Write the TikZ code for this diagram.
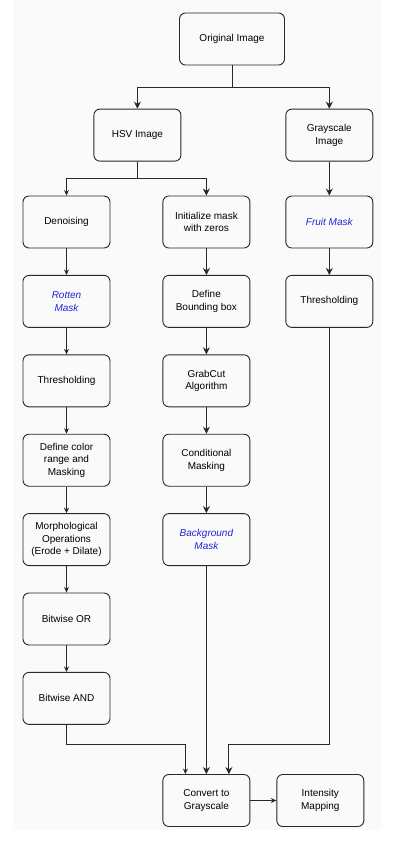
\documentclass[tikz,border=0pt]{standalone}
\usepackage{fontspec}
\setmainfont{Liberation Sans}
\usetikzlibrary{positioning,arrows.meta}

\definecolor{maskblue}{RGB}{35,35,215}
\definecolor{bgpaper}{RGB}{250,250,250}
\definecolor{linegray}{RGB}{40,40,40}

\tikzset{
	box/.style = {draw=linegray, line width=0.9pt, rounded corners=6pt,
		minimum width=87pt, minimum height=52pt, align=center,
		font=\fontsize{10}{12.7}\selectfont},
	mask/.style = {text=maskblue, font=\fontsize{10}{12.7}\selectfont\itshape},
	arr/.style = {draw=linegray, line width=0.9pt, -{Stealth[length=7pt,width=7pt]}},
	arrs/.style = {draw=linegray, line width=0.9pt, -{Stealth[length=5.5pt,width=5pt]}},
}

\begin{document}
\begin{tikzpicture}[node distance=26.5pt]
	\useasboundingbox (0,0) rectangle (415pt,-846pt);
	\fill[bgpaper] (13pt,0) rectangle (381pt,-830pt);

	% left column
	\node[box] (l1) at (66.5pt,-222pt) {Denoising};
	\node[box, below=of l1] (l2) {\textcolor{maskblue}{\itshape Rotten}\\\textcolor{maskblue}{\itshape Mask}};
	\node[box, below=of l2] (l3) {Thresholding};
	\node[box, below=of l3] (l4) {Define color\\range and\\Masking};
	\node[box, below=of l4] (l5) {Morphological\\Operations\\(Erode + Dilate)};
	\node[box, below=of l5] (l6) {Bitwise OR};
	\node[box, below=of l6] (l7) {Bitwise AND};

	% middle column
	\node[box, right=52pt of l1] (m1) {Initialize mask\\with zeros};
	\node[box, below=of m1] (m2) {Define\\Bounding box};
	\node[box, below=of m2] (m3) {GrabCut\\Algorithm};
	\node[box, below=of m3] (m4) {Conditional\\Masking};
	\node[box, below=of m4] (m5) {\textcolor{maskblue}{\itshape Background}\\\textcolor{maskblue}{\itshape Mask}};

	% right column
	\node[box, right=35pt of m1] (r1) {\textcolor{maskblue}{\itshape Fruit Mask}};
	\node[box, below=of r1] (r2) {Thresholding};

	% top
	\node[box, above=34pt of r1] (gray) {Grayscale\\Image};
	\node[box, left=104pt of gray] (hsv) {HSV Image};
	\node[box, minimum width=105pt] (orig) at (232pt,-39pt) {Original Image};

	% bottom
	\node[box, below=208pt of m5] (conv) {Convert to\\Grayscale};
	\node[box, right=26pt of conv] (inten) {Intensity\\Mapping};

	\coordinate (split1) at (0,-87pt);
	\coordinate (split2) at (0,-178pt);
	\coordinate (merge) at (0,-744pt);

	\draw[arr] (orig.south) -- (orig.south |- split1) -| (hsv.north);
	\draw[arr] (orig.south) -- (orig.south |- split1) -| (gray.north);
	\draw[arrs] (hsv.south) -- (hsv.south |- split2) -| (l1.north);
	\draw[arr] (hsv.south) -- (hsv.south |- split2) -| (m1.north);

	\foreach \a/\b in {l1/l2, l2/l3, l3/l4, l4/l5, l5/l6, l6/l7}
		\draw[arrs] (\a) -- (\b);
	\foreach \a/\b in {m1/m2, m2/m3, m3/m4, m4/m5, gray/r1, r1/r2}
		\draw[arr] (\a) -- (\b);

	\draw[arrs] (l7.south) -- (l7.south |- merge) -| ([xshift=-21pt]conv.north);
	\draw[arr] (m5) -- (conv);
	\draw[arr] (r2.south) -- (r2.south |- merge) -| ([xshift=22.5pt]conv.north);
	\draw[arrs] (conv) -- (inten);
\end{tikzpicture}
\end{document}
